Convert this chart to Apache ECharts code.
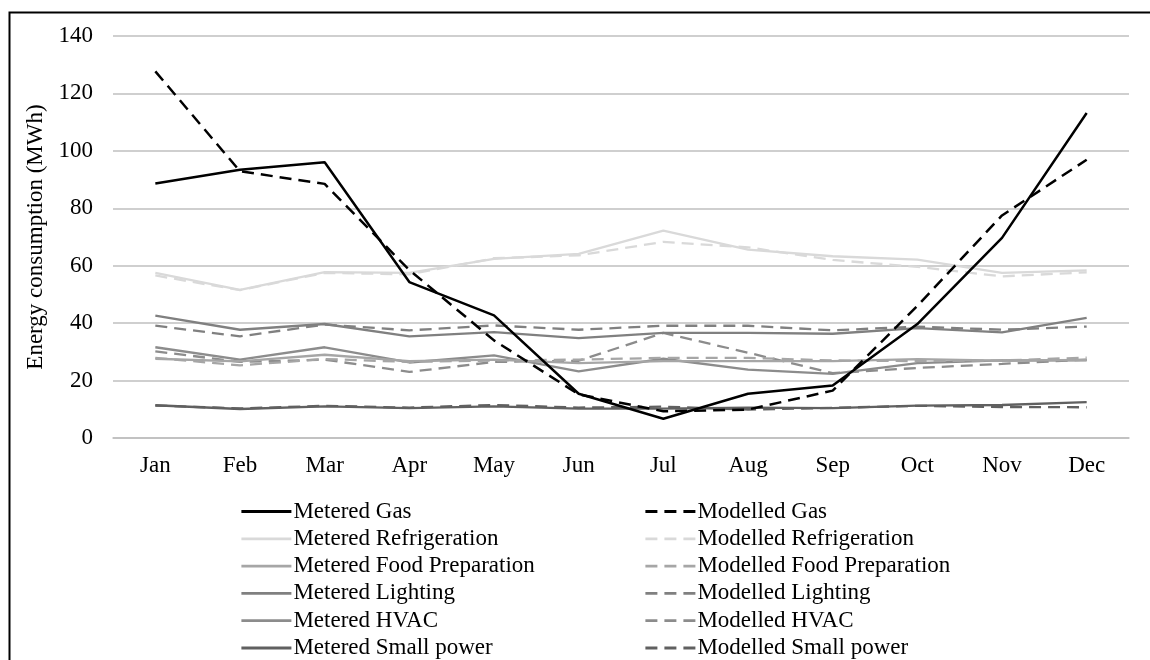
<!DOCTYPE html>
<html>
<head>
<meta charset="utf-8">
<script src="https://cdn.jsdelivr.net/npm/echarts@6/dist/echarts.min.js"></script>
<style>html,body{margin:0;padding:0;background:#fff}#c{width:1150px;height:660px}</style>
</head>
<body>
<div id="c"></div>
<script>
const months = ['Jan','Feb','Mar','Apr','May','Jun','Jul','Aug','Sep','Oct','Nov','Dec'];
const yTicks = [0,20,40,60,80,100,120,140];

const meteredGas = [88.6,93.4,96.0,54.3,42.7,15.4,6.7,15.4,18.3,39.7,69.7,113.2];
const modelledGas = [127.7,92.9,88.5,58.5,34.0,15.2,9.3,9.9,16.5,46.0,77.5,96.9];
const meteredRefrigeration = [57.5,51.6,57.8,57.5,62.4,64.1,72.2,65.6,63.3,62.1,57.5,58.4];
const modelledRefrigeration = [56.6,51.5,57.5,57.0,62.6,63.6,68.3,66.4,62.0,59.6,56.3,57.7];
const meteredFoodPreparation = [27.6,26.7,29.0,26.8,27.3,26.1,26.8,26.8,26.8,27.5,26.9,27.2];
const modelledFoodPreparation = [27.9,25.3,27.5,26.5,27.0,27.3,27.9,27.9,27.0,26.8,27.0,28.0];
const meteredLighting = [42.6,37.7,39.7,35.4,36.9,34.8,36.6,36.6,36.3,38.3,36.8,41.8];
const modelledLighting = [39.1,35.4,39.5,37.5,39.2,37.7,39.1,39.1,37.5,38.8,37.7,38.8];
const meteredHVAC = [31.6,27.3,31.6,26.3,28.8,23.2,27.6,23.8,22.3,26.1,27.0,27.0];
const modelledHVAC = [30.2,26.5,27.3,23.0,26.5,26.9,36.6,29.7,22.6,24.4,25.8,27.3];
const meteredSmallPower = [11.4,10.1,11.0,10.4,11.0,10.2,10.2,10.6,10.4,11.3,11.5,12.5];
const modelledSmallPower = [11.3,10.3,11.2,10.6,11.5,10.6,10.9,9.9,10.5,11.2,10.8,10.7];

const FONT = "'Liberation Serif','Times New Roman',serif";
const FS = 23;
const DASH = [12, 7];

function mk(name, data, color, dashed, width, z) {
  return {
    name: name, type: 'line', data: data, symbol: 'none', z: z,
    lineStyle: { color: color, width: width, type: dashed ? DASH : 'solid' },
    itemStyle: { color: color },
    emphasis: { disabled: true }, animation: false
  };
}

const series = [
  mk('Metered Small power', meteredSmallPower, '#606060', false, 2.3, 2),
  mk('Modelled Small power', modelledSmallPower, '#606060', true, 2.3, 2),
  mk('Metered HVAC', meteredHVAC, '#8c8c8c', false, 2.3, 2),
  mk('Modelled HVAC', modelledHVAC, '#8c8c8c', true, 2.3, 2),
  mk('Metered Lighting', meteredLighting, '#808080', false, 2.3, 2),
  mk('Modelled Lighting', modelledLighting, '#808080', true, 2.3, 2),
  mk('Metered Food Preparation', meteredFoodPreparation, '#a6a6a6', false, 2.3, 2),
  mk('Modelled Food Preparation', modelledFoodPreparation, '#a6a6a6', true, 2.3, 2),
  mk('Metered Refrigeration', meteredRefrigeration, '#d9d9d9', false, 2.3, 2),
  mk('Modelled Refrigeration', modelledRefrigeration, '#d9d9d9', true, 2.3, 2),
  mk('Metered Gas', meteredGas, '#000000', false, 2.5, 3),
  mk('Modelled Gas', modelledGas, '#000000', true, 2.5, 3)
];

const legendCommon = {
  orient: 'vertical', top: 500, padding: 0,
  itemWidth: 50, itemHeight: 20, itemGap: 4.3,
  itemStyle: { opacity: 0 },
  lineStyle: { width: 2.8 },
  textStyle: { fontFamily: FONT, fontSize: FS, color: '#000', lineHeight: 20, padding: [0,0,0,-3] },
  selectedMode: false
};

const chart = echarts.init(document.getElementById('c'), null, { renderer: 'canvas' });
chart.setOption({
  animation: false,
  backgroundColor: '#fff',
  grid: { left: 113, right: 21, top: 36, bottom: 222, containLabel: false },
  xAxis: {
    type: 'category', data: months, boundaryGap: true,
    axisLine: { show: true, lineStyle: { color: '#bfbfbf', width: 1.5 } },
    axisTick: { show: false },
    axisLabel: { fontFamily: FONT, fontSize: FS, color: '#000', margin: 16 }
  },
  yAxis: {
    type: 'value', min: 0, max: 140, interval: 20,
    name: 'Energy consumption (MWh)', nameLocation: 'middle', nameGap: 65,
    nameTextStyle: { fontFamily: FONT, fontSize: FS, color: '#000' },
    axisLine: { show: false }, axisTick: { show: false },
    axisLabel: { fontFamily: FONT, fontSize: FS, color: '#000', margin: 20,
      formatter: function (v) { return yTicks.indexOf(v) >= 0 ? String(v) : ''; } },
    splitLine: { show: true, lineStyle: { color: '#bfbfbf', width: 1.5 } }
  },
  legend: [
    Object.assign({}, legendCommon, { left: 240, data: ['Metered Gas','Metered Refrigeration','Metered Food Preparation','Metered Lighting','Metered HVAC','Metered Small power'] }),
    Object.assign({}, legendCommon, { left: 644, data: ['Modelled Gas','Modelled Refrigeration','Modelled Food Preparation','Modelled Lighting','Modelled HVAC','Modelled Small power'] })
  ],
  graphic: [{
    type: 'rect', left: 7, top: 10, silent: true,
    shape: { x: 0, y: 0, width: 1200, height: 700 },
    style: { fill: 'none', stroke: '#000', lineWidth: 2 }
  }],
  series: series
});
</script>
</body>
</html>
